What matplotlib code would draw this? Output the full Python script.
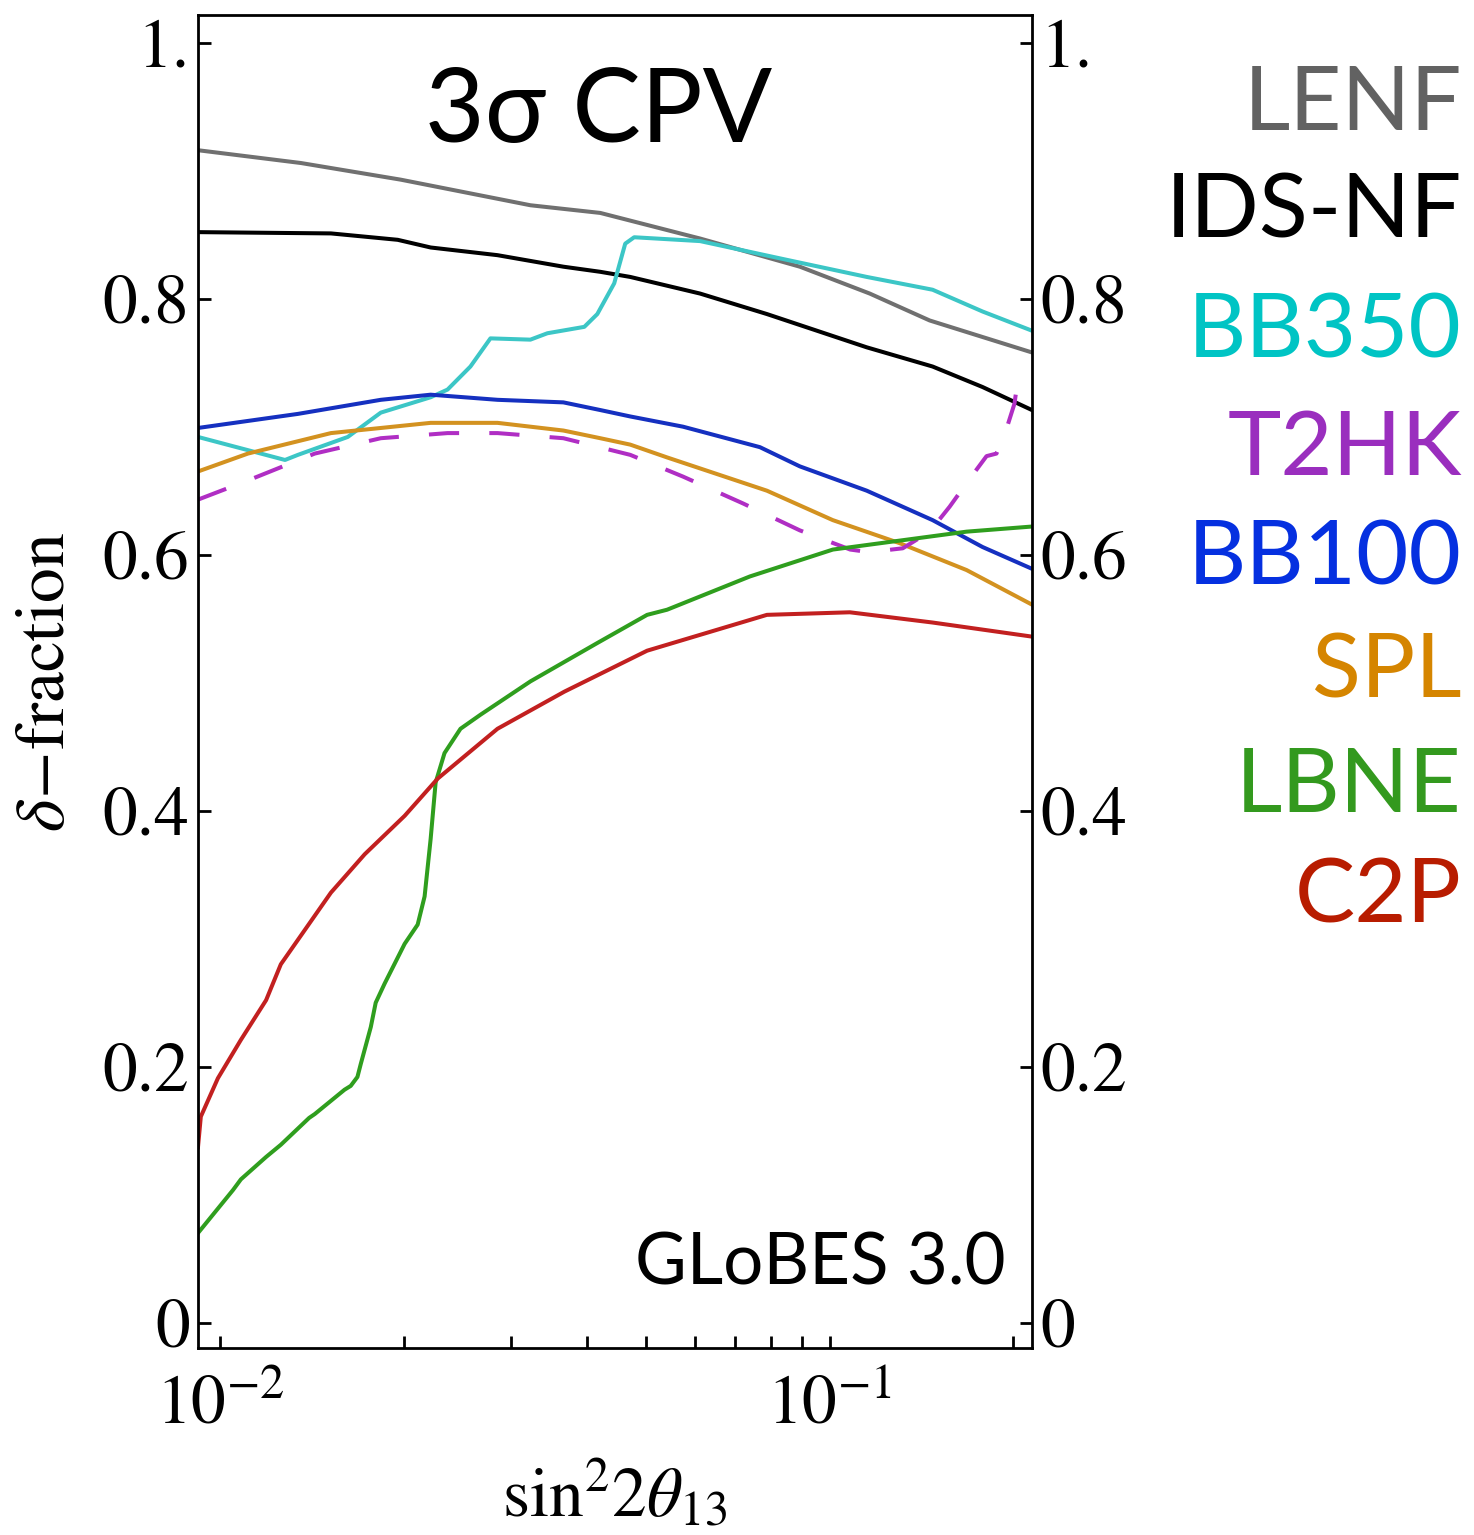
import matplotlib
matplotlib.use("Agg")
import matplotlib.pyplot as plt
from matplotlib.ticker import FixedLocator, NullFormatter

plt.rcParams['mathtext.fontset'] = 'stix'

# ---------------- data ----------------
lenf_x = [0.0092, 0.01357, 0.01978, 0.03228, 0.04203, 0.06127, 0.08929, 0.11627, 0.14576, 0.2145]
lenf_y = [0.916, 0.906, 0.893, 0.873, 0.867, 0.847, 0.825, 0.804, 0.783, 0.758]

idsnf_x = [0.0092, 0.01520, 0.01956, 0.02215, 0.02851, 0.03656, 0.04203, 0.04706, 0.06127,
           0.07885, 0.11496, 0.14741, 0.17799, 0.2145]
idsnf_y = [0.852, 0.851, 0.846, 0.840, 0.834, 0.825, 0.821, 0.817, 0.804,
           0.788, 0.762, 0.747, 0.731, 0.713]

bb350_x = [0.0092, 0.01278, 0.01342, 0.01620, 0.01835, 0.02215, 0.02361, 0.02574, 0.02776,
           0.03228, 0.03442, 0.03957, 0.04156, 0.04430, 0.04618, 0.04777, 0.06127, 0.08378,
           0.11496, 0.14741, 0.17799, 0.2145]
bb350_y = [0.692, 0.674, 0.678, 0.692, 0.711, 0.723, 0.729, 0.747, 0.769,
           0.768, 0.773, 0.778, 0.788, 0.812, 0.843, 0.848, 0.845, 0.831,
           0.817, 0.807, 0.790, 0.775]

t2hk_x = [0.0092, 0.01111, 0.01430, 0.01835, 0.02361, 0.02851, 0.03656, 0.04706, 0.05745,
          0.07208, 0.08929, 0.10800, 0.11600, 0.1317, 0.1458, 0.1572, 0.1682, 0.1807,
          0.1876, 0.1934, 0.2008, 0.2023, 0.2145]
t2hk_y = [0.643, 0.658, 0.679, 0.691, 0.695, 0.695, 0.691, 0.678, 0.661,
          0.640, 0.619, 0.604, 0.602, 0.605, 0.618, 0.6375, 0.657, 0.677,
          0.679, 0.6935, 0.718, 0.729, 0.731]

bb100_x = [0.0092, 0.01342, 0.01835, 0.02215, 0.02851, 0.03656, 0.04203, 0.04706, 0.05745,
           0.07680, 0.08929, 0.11496, 0.14741, 0.17799, 0.2145]
bb100_y = [0.699, 0.710, 0.721, 0.725, 0.721, 0.719, 0.713, 0.708, 0.700,
           0.684, 0.669, 0.650, 0.627, 0.606, 0.589]

spl_x = [0.0092, 0.01111, 0.01520, 0.02215, 0.02851, 0.03656, 0.04203, 0.04706, 0.05408,
         0.07885, 0.10113, 0.13017, 0.16758, 0.2145]
spl_y = [0.665, 0.679, 0.695, 0.703, 0.703, 0.697, 0.691, 0.686, 0.676,
         0.650, 0.627, 0.609, 0.588, 0.561]

lbne_x = [0.0092, 0.01050, 0.01082, 0.01190, 0.01258, 0.01400, 0.01430, 0.01600, 0.01638,
          0.01680, 0.01701, 0.01767, 0.01800, 0.01862, 0.02008, 0.02109, 0.02165, 0.02215,
          0.02257, 0.02334, 0.02479, 0.02674, 0.03228, 0.04156, 0.05016, 0.05408, 0.07394,
          0.10113, 0.13017, 0.16758, 0.2145]
lbne_y = [0.070, 0.1036, 0.112, 0.1295, 0.139, 0.160, 0.163, 0.182, 0.185,
          0.192, 0.202, 0.231, 0.250, 0.265, 0.296, 0.311, 0.333, 0.378,
          0.422, 0.445, 0.464, 0.475, 0.501, 0.531, 0.553, 0.557, 0.583,
          0.604, 0.611, 0.618, 0.622]

c2p_x = [0.0092, 0.0093, 0.00992, 0.01082, 0.01190, 0.01258, 0.01520, 0.01727, 0.02008,
         0.02274, 0.02851, 0.03670, 0.05016, 0.07885, 0.10783, 0.14741, 0.2145]
c2p_y = [0.137, 0.161, 0.191, 0.221, 0.252, 0.280, 0.336, 0.366, 0.396,
         0.425, 0.464, 0.493, 0.525, 0.553, 0.555, 0.547, 0.536]

series_names = ["LENF", "IDS-NF", "BB350", "T2HK", "BB100", "SPL", "LBNE", "C2P"]
line_colors = ["#707070", "#000000", "#3CC6C6", "#B02EC4", "#1530C0", "#D39220", "#2F9E1E", "#C22020"]
text_colors = ["#626262", "#000000", "#00C4C4", "#9A2EBE", "#0530E0", "#D58500", "#33991E", "#B81C00"]

y_ticks = [0, 0.2, 0.4, 0.6, 0.8, 1.0]
y_tick_labels = ["0", "0.2", "0.4", "0.6", "0.8", "1."]
x_major = [0.01, 0.1]
x_major_labels = [r"$10^{-2}$", r"$10^{-1}$"]
x_minor = [0.02, 0.03, 0.04, 0.05, 0.06, 0.07, 0.08, 0.09, 0.2]

# ---------------- figure ----------------
fig = plt.figure(figsize=(14.74, 15.35), dpi=100)
ax = fig.add_axes([0.1343, 0.1218, 0.5658, 0.8684])

lw = 2.9
ax.plot(lenf_x, lenf_y, color=line_colors[0], lw=lw)
ax.plot(idsnf_x, idsnf_y, color=line_colors[1], lw=lw)
ax.plot(bb350_x, bb350_y, color=line_colors[2], lw=lw)
ax.plot(bb100_x, bb100_y, color=line_colors[4], lw=lw)
ax.plot(spl_x, spl_y, color=line_colors[5], lw=lw)
ax.plot(t2hk_x, t2hk_y, color=line_colors[3], lw=lw, dashes=(7.5, 7.5))
ax.plot(lbne_x, lbne_y, color=line_colors[6], lw=lw)
ax.plot(c2p_x, c2p_y, color=line_colors[7], lw=lw)

ax.set_xscale('log')
ax.set_xlim(0.0092, 0.2145)
ax.set_ylim(-0.0198, 1.0216)

ax.xaxis.set_major_locator(FixedLocator(x_major))
ax.set_xticklabels(x_major_labels)
ax.xaxis.set_minor_locator(FixedLocator(x_minor))
ax.xaxis.set_minor_formatter(NullFormatter())
ax.set_yticks(y_ticks)
ax.set_yticklabels(y_tick_labels)

for sp in ax.spines.values():
    sp.set_linewidth(2.0)

ax.tick_params(axis='both', which='both', direction='in', length=9, width=2.0)
ax.tick_params(axis='y', right=True, labelright=True, labelsize=50, pad=6)
ax.tick_params(axis='x', which='major', labelsize=50, pad=20)
for lab in ax.get_yticklabels():
    lab.set_fontfamily('STIXGeneral')
for lab in ax.get_xticklabels():
    lab.set_fontfamily('STIXGeneral')

ax.set_ylabel(r"$\delta\!-\!\mathrm{fraction}$", fontsize=50, labelpad=18)
ax.set_xlabel(r"$\mathrm{sin}^2 2\theta_{13}$", fontsize=50, labelpad=14)

# title inside
ax.text(0.48, 0.905, "3σ CPV", transform=ax.transAxes, ha='center', va='baseline',
        fontsize=74, family=['Lato', 'DejaVu Sans'], color='black')
ax.text(0.968, 0.048, "GLoBES 3.0", transform=ax.transAxes, ha='right', va='baseline',
        fontsize=51, family=['Lato', 'DejaVu Sans'], color='black')

# labels on the right
baselines_px = [130, 238, 358, 475, 585, 698, 812, 923]
for name, col, bpx in zip(series_names, text_colors, baselines_px):
    fig.text(1462 / 1474, 1 - bpx / 1535, name, ha='right', va='baseline',
             fontsize=65, family=['Lato', 'DejaVu Sans'], color=col)

fig.savefig("out.png", dpi=100)
